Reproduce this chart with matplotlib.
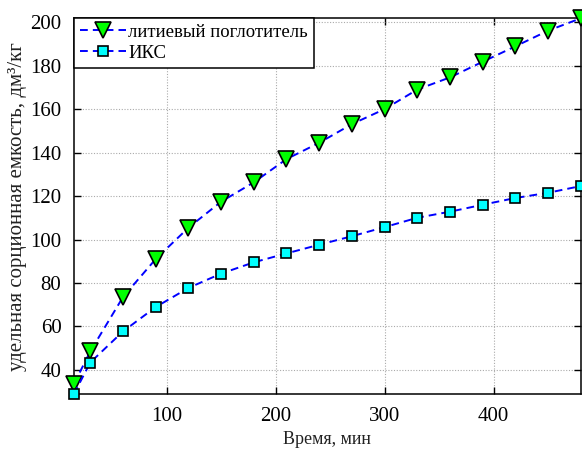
import matplotlib
matplotlib.use("Agg")
import matplotlib.pyplot as plt

# time, min
time_min = [15, 30, 60, 90, 120, 150, 180, 210, 240, 270, 300, 330, 360, 390, 420, 450, 480]
# sorption capacity, dm3/kg
lithium = [33.5, 48.5, 73.5, 91.0, 105.4, 117.4, 126.3, 137.0, 144.5, 153.1, 160.0,
           169.0, 174.6, 181.8, 188.9, 196.1, 201.8]
iks = [28.9, 43.4, 57.7, 68.9, 77.7, 84.3, 89.5, 93.6, 97.6, 101.5, 105.7,
       110.0, 112.8, 116.0, 119.1, 121.5, 124.6]

labels = ["литиевый поглотитель", "ИКС"]
x_ticks = [100, 200, 300, 400]
y_ticks = [40, 60, 80, 100, 120, 140, 160, 180, 200]

plt.rcParams["font.family"] = ["Liberation Serif", "DejaVu Serif"]

fig = plt.figure(figsize=(5.82, 4.5), dpi=100)
ax = fig.add_axes([0.127, 0.1244, 0.871, 0.835])

dash = (0, (4, 2.6))
ax.plot(time_min, lithium, linestyle=dash, color="#0000ff", lw=1.4, marker="v", ms=11,
        mfc="#00ff00", mec="black", mew=1.2, label=labels[0], clip_on=False, zorder=3)
ax.plot(time_min, iks, linestyle=dash, color="#0000ff", lw=1.4, marker="s", ms=7.5,
        mfc="#00ffff", mec="black", mew=1.2, label=labels[1], clip_on=False, zorder=3)

ax.set_xlim(min(time_min), max(time_min))
ax.set_ylim(min(iks), max(lithium))
ax.set_xticks(x_ticks)
ax.set_yticks(y_ticks)
ax.tick_params(direction="in", top=True, right=True, labelsize=15, length=5, width=1, pad=9)
ax.grid(True, linestyle=(0, (1, 1.5)), color="#aaaaaa", lw=0.8)
for s in ax.spines.values():
    s.set_linewidth(1.1)

ax.set_xlabel("Время, мин", fontsize=13, color="#222222", labelpad=4)
ax.set_ylabel("удельная сорционная емкость, дм³/кг", fontsize=15, color="#222222", labelpad=2)

leg = ax.legend(loc="upper left", fontsize=13.5, borderaxespad=0, fancybox=False,
                edgecolor="black", framealpha=1, handlelength=2.5, handletextpad=0.1,
                borderpad=0.3, labelspacing=0.2)
leg.get_frame().set_linewidth(1.1)

fig.savefig("out.png", dpi=100)
